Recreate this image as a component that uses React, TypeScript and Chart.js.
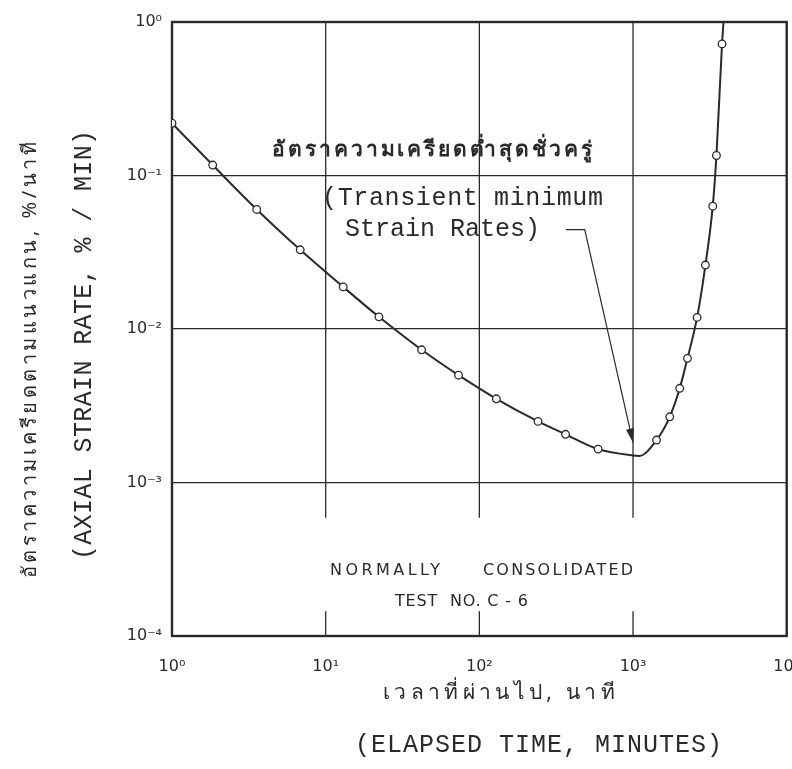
import React, { useEffect, useRef } from "react";
import { Chart, registerables } from "chart.js";

Chart.register(...registerables);

// elapsed time (minutes) and axial strain rate (% / min)
const timeMin = [1, 1.84, 3.56, 6.83, 13.0, 22.2, 42.1, 73.2, 129, 241, 364, 593, 1000, 1100, 1422, 1734, 2014, 2261, 2612, 2959, 3302, 3490, 3795, 3880];
const strainRate = [0.219, 0.117, 0.0601, 0.0328, 0.0188, 0.012, 0.00732, 0.005, 0.00351, 0.0025, 0.00206, 0.00165, 0.0015, 0.00149, 0.00189, 0.00268, 0.00411, 0.00644, 0.0119, 0.0261, 0.0631, 0.135, 0.72, 1.0];
const hasMarker = [1, 1, 1, 1, 1, 1, 1, 1, 1, 1, 1, 1, 0, 0, 1, 1, 1, 1, 1, 1, 1, 1, 1, 0];

const xTicks = [1, 10, 100, 1000, 10000];
const xTickLabels = ["10\u2070", "10\u00b9", "10\u00b2", "10\u00b3", "10\u2074"];
const yTicks = [1, 0.1, 0.01, 0.001, 0.0001];
const yTickLabels = ["10\u2070", "10\u207b\u00b9", "10\u207b\u00b2", "10\u207b\u00b3", "10\u207b\u2074"];

const INK = "#2a2a2a";

function fitText(ctx: CanvasRenderingContext2D, text: string, x: number, y: number, width: number) {
  const anyCtx = ctx as any;
  if ("letterSpacing" in anyCtx) {
    anyCtx.letterSpacing = "0px";
    const w = ctx.measureText(text).width;
    const sp = (width - w) / Math.max(1, text.length - 1);
    anyCtx.letterSpacing = sp.toFixed(2) + "px";
    ctx.fillText(text, x, y);
    anyCtx.letterSpacing = "0px";
  } else {
    const w = ctx.measureText(text).width;
    ctx.save();
    ctx.translate(x, y);
    ctx.scale(width / w, 1);
    ctx.fillText(text, 0, 0);
    ctx.restore();
  }
}

const decorPlugin = {
  id: "decor",
  beforeDatasetsDraw(chart: any) {
    const { ctx, chartArea, scales } = chart;
    const xs = scales.x;
    const ys = scales.y;
    ctx.save();
    ctx.strokeStyle = INK;
    // shortened vertical grid lines and bottom ticks
    ctx.lineWidth = 1.3;
    for (const v of [10, 100, 1000]) {
      const px = xs.getPixelForValue(v);
      ctx.beginPath();
      ctx.moveTo(px, chartArea.top);
      ctx.lineTo(px, ys.getPixelForValue(0.00059));
      ctx.stroke();
      ctx.beginPath();
      ctx.moveTo(px, ys.getPixelForValue(0.000145));
      ctx.lineTo(px, chartArea.bottom);
      ctx.stroke();
    }
    // frame
    ctx.lineWidth = 2.4;
    ctx.strokeRect(chartArea.left, chartArea.top, chartArea.right - chartArea.left, chartArea.bottom - chartArea.top);
    ctx.restore();
  },
  afterDraw(chart: any) {
    const { ctx, scales } = chart;
    const xs = scales.x;
    const ys = scales.y;
    ctx.save();
    ctx.fillStyle = INK;
    ctx.strokeStyle = INK;

    // arrow to transient minimum
    const hx = xs.getPixelForValue(365);
    const sx = xs.getPixelForValue(485);
    const sy = ys.getPixelForValue(0.0444);
    const tx = xs.getPixelForValue(1000);
    const ty = ys.getPixelForValue(0.00182);
    ctx.lineWidth = 1.2;
    ctx.beginPath();
    ctx.moveTo(hx, sy);
    ctx.lineTo(sx, sy);
    ctx.lineTo(tx, ty);
    ctx.stroke();
    const ang = Math.atan2(ty - sy, tx - sx);
    const L = 14, W = 4;
    ctx.beginPath();
    ctx.moveTo(tx, ty);
    ctx.lineTo(tx - L * Math.cos(ang) + W * Math.sin(ang), ty - L * Math.sin(ang) - W * Math.cos(ang));
    ctx.lineTo(tx - L * Math.cos(ang) - W * Math.sin(ang), ty - L * Math.sin(ang) + W * Math.cos(ang));
    ctx.closePath();
    ctx.fill();

    ctx.textBaseline = "middle";
    ctx.textAlign = "left";
    // annotation text
    ctx.font = "bold 21px 'Noto Sans', 'DejaVu Sans', sans-serif";
    fitText(ctx, "อัตราความเครียดต่ำสุดชั่วครู่", 272, 150, 346);
    ctx.font = "25px 'Liberation Mono', 'DejaVu Sans Mono', monospace";
    fitText(ctx, "(Transient minimum", 322, 198, 281);
    fitText(ctx, "Strain Rates)", 345, 229, 195);

    ctx.font = "16px 'DejaVu Sans', sans-serif";
    fitText(ctx, "NORMALLY", 330, 571, 110);
    fitText(ctx, "CONSOLIDATED", 483, 571, 150);
    fitText(ctx, "TEST  NO. C - 6", 395, 602, 133);

    // x axis titles
    ctx.font = "21px 'Noto Sans', 'DejaVu Sans', sans-serif";
    fitText(ctx, "เวลาที่ผ่านไป, นาที", 383, 693, 249);
    ctx.font = "25px 'Liberation Mono', 'DejaVu Sans Mono', monospace";
    fitText(ctx, "(ELAPSED TIME, MINUTES)", 355, 745, 367);

    // y axis titles (rotated)
    ctx.save();
    ctx.translate(30, 578);
    ctx.rotate(-Math.PI / 2);
    ctx.font = "20px 'Noto Sans', 'DejaVu Sans', sans-serif";
    fitText(ctx, "อัตราความเครียดตามแนวแกน, %/นาที", 0, 0, 446);
    ctx.restore();
    ctx.save();
    ctx.translate(84, 560);
    ctx.rotate(-Math.PI / 2);
    ctx.font = "25px 'Liberation Mono', 'DejaVu Sans Mono', monospace";
    fitText(ctx, "(AXIAL STRAIN RATE, % / MIN)", 0, 0, 430);
    ctx.restore();

    ctx.restore();
  },
};

export default function App() {
  const ref = useRef<HTMLCanvasElement | null>(null);
  useEffect(() => {
    if (!ref.current) return;
    const data = timeMin.map((t, i) => ({ x: t, y: strainRate[i] }));
    const chart = new Chart(ref.current, {
      type: "line",
      data: {
        datasets: [
          {
            data,
            borderColor: INK,
            borderWidth: 2,
            cubicInterpolationMode: "monotone",
            pointRadius: hasMarker.map((m) => (m ? 3.8 : 0)),
            pointBackgroundColor: "#ffffff",
            pointBorderColor: INK,
            pointBorderWidth: 1.3,
            fill: false,
          },
        ],
      },
      options: {
        responsive: false,
        animation: false,
        events: [],
        layout: { padding: { top: 22, right: 5, left: 0, bottom: 0 } },
        plugins: { legend: { display: false }, tooltip: { enabled: false } },
        scales: {
          x: {
            type: "logarithmic",
            min: 1,
            max: 10000,
            afterBuildTicks: (s: any) => {
              s.ticks = xTicks.map((v) => ({ value: v }));
            },
            afterFit: (s: any) => {
              s.height = 133;
              s.paddingLeft = 0;
              s.paddingRight = 0;
            },
            grid: { display: false },
            border: { display: false },
            ticks: {
              autoSkip: false,
              maxRotation: 0,
              padding: 13,
              color: INK,
              font: { family: "'DejaVu Sans', sans-serif", size: 16 },
              callback: (v: any) => {
                const i = xTicks.indexOf(Number(v));
                return i >= 0 ? xTickLabels[i] : null;
              },
            },
          },
          y: {
            type: "logarithmic",
            min: 0.0001,
            max: 1,
            afterBuildTicks: (s: any) => {
              s.ticks = yTicks.map((v) => ({ value: v }));
            },
            afterFit: (s: any) => {
              s.width = 172;
              s.paddingTop = 0;
              s.paddingBottom = 0;
            },
            grid: { display: true, color: INK, lineWidth: 1.3, drawTicks: false },
            border: { display: false },
            ticks: {
              autoSkip: false,
              padding: 10,
              color: INK,
              font: { family: "'DejaVu Sans', sans-serif", size: 16 },
              callback: (v: any) => {
                const i = yTicks.findIndex((t) => Math.abs(Math.log10(t) - Math.log10(Number(v))) < 1e-6);
                return i >= 0 ? yTickLabels[i] : null;
              },
            },
          },
        },
      },
      plugins: [decorPlugin],
    });
    return () => chart.destroy();
  }, []);
  return (
    <div style={{ position: "absolute", left: 0, top: 0, width: 792, height: 769, background: "#fff" }}>
      <canvas ref={ref} width={792} height={769} style={{ display: "block", width: 792, height: 769 }} />
    </div>
  );
}
